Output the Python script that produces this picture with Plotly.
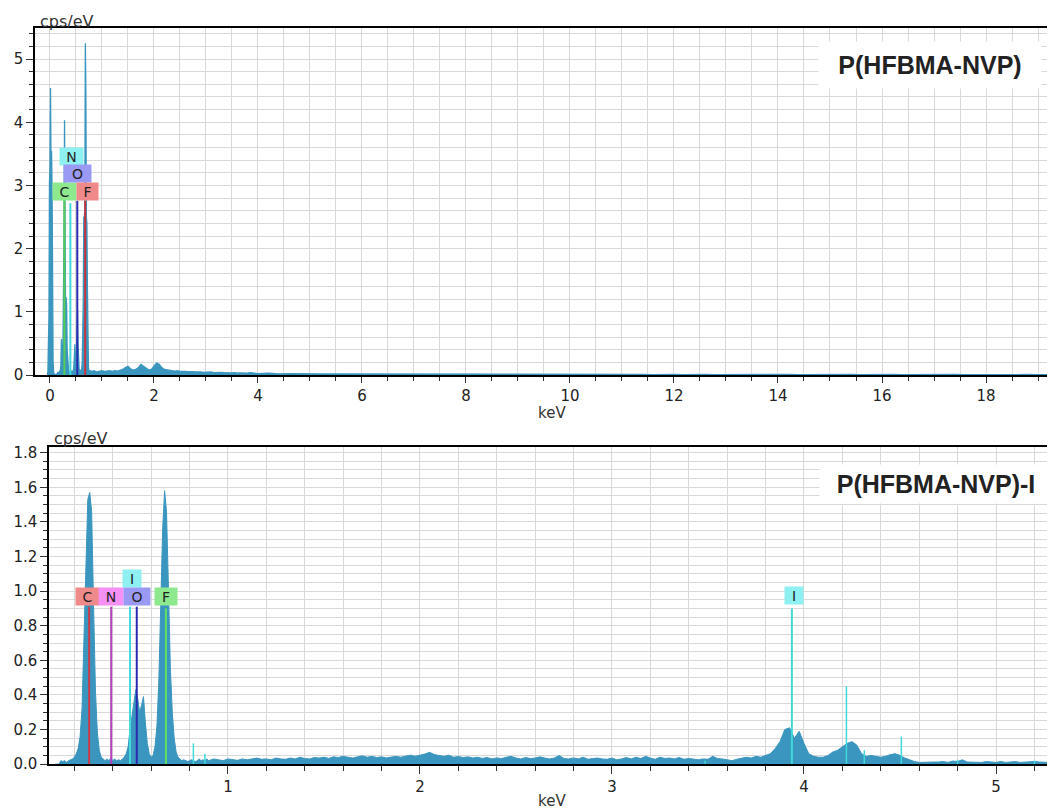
import plotly.graph_objects as go

# ---------------- DATA ----------------
# Top spectrum: P(HFBMA-NVP)   (segments: start keV, step keV, cps/eV values)
top_peak_start, top_peak_step = -0.05, 0.01
top_peak_cps = [0.0, 0.06, 0.5, 0.91, 3.04, 3.3, 4.54, 3.3, 3.55, 3.0,
                0.9, 0.2, 0.05, 0.0, 0.0, 0.0, 0.01, 0.0, 0.01, 0.02,
                0.04, 0.03, 0.05, 0.05, 0.06, 0.08, 0.15, 0.57, 0.3, 0.25,
                0.5, 1.0, 2.2, 4.03, 2.0, 0.8, 1.23, 1.1, 0.4, 0.2,
                0.08, 0.05, 0.04, 0.05, 0.06, 0.05, 0.04, 0.06, 0.05, 0.06,
                0.08, 0.15, 0.35, 0.49, 0.2, 0.15, 0.3, 0.6, 1.04, 0.5,
                0.2, 0.1, 0.08, 0.07, 0.07, 0.08, 0.1, 0.2, 0.5, 1.2,
                2.5, 2.5, 2.6, 5.25, 4.48, 2.5, 2.4, 1.36, 0.4, 0.12,
                0.07, 0.06, 0.07, 0.06, 0.065]
top_bg1_start, top_bg1_step = 0.80, 0.05
top_bg1_cps = [0.06, 0.07, 0.05, 0.06, 0.07, 0.06, 0.065, 0.07,
               0.06, 0.07, 0.065, 0.08, 0.09, 0.12, 0.14, 0.10,
               0.08, 0.09, 0.12, 0.17, 0.14, 0.10, 0.08, 0.09,
               0.14, 0.19, 0.17, 0.12, 0.09, 0.08, 0.075, 0.07,
               0.065, 0.07, 0.06, 0.065, 0.06, 0.055, 0.06, 0.055,
               0.05, 0.055, 0.05, 0.045, 0.05, 0.045, 0.05, 0.04,
               0.045, 0.04, 0.045, 0.04, 0.035, 0.04, 0.035, 0.04,
               0.03, 0.035, 0.03, 0.028, 0.03, 0.04, 0.035, 0.03]
top_bg2_start, top_bg2_step = 4.0, 0.2
top_bg2_cps = [0.025, 0.03, 0.02, 0.025, 0.02, 0.022, 0.018, 0.02,
               0.02, 0.018, 0.02, 0.015, 0.018, 0.02, 0.015, 0.018,
               0.015, 0.02, 0.015, 0.012, 0.018, 0.015, 0.012, 0.015,
               0.012, 0.015, 0.01, 0.012, 0.015, 0.01, 0.012, 0.01,
               0.012, 0.01, 0.015, 0.01, 0.012, 0.01, 0.008, 0.012,
               0.01, 0.008, 0.012, 0.01, 0.008, 0.01, 0.012, 0.008,
               0.01, 0.008, 0.01, 0.012, 0.008, 0.01, 0.008, 0.01,
               0.008, 0.01, 0.008, 0.012, 0.008, 0.01, 0.008, 0.01,
               0.008, 0.01, 0.008, 0.01, 0.008, 0.01, 0.012, 0.008,
               0.01, 0.008, 0.01, 0.008, 0.01, 0.008]

# Bottom spectrum: P(HFBMA-NVP)-I
bot_peak_start, bot_peak_step = 0.10, 0.01
bot_peak_cps = [0.0, 0.0, 0.0, 0.02, 0.015, 0.02, 0.01, 0.02, 0.025, 0.03,
                0.04, 0.06, 0.09, 0.16, 0.32, 0.72, 1.25, 1.53, 1.57, 1.46,
                0.92, 0.42, 0.18, 0.08, 0.04, 0.03, 0.02, 0.03, 0.02, 0.035,
                0.02, 0.03, 0.02, 0.025, 0.02, 0.03, 0.04, 0.06, 0.1, 0.2,
                0.28, 0.36, 0.43, 0.38, 0.3, 0.34, 0.39, 0.24, 0.12, 0.06,
                0.04, 0.05, 0.1, 0.22, 0.48, 0.92, 1.36, 1.58, 1.46, 1.02,
                0.56, 0.3, 0.15, 0.07, 0.04, 0.03, 0.02, 0.025, 0.02, 0.015,
                0.02, 0.025, 0.02, 0.015, 0.02, 0.03, 0.02, 0.025, 0.02, 0.03]
bot_bg_start, bot_bg_step = 0.90, 0.025
bot_bg_cps = [0.02, 0.03, 0.025, 0.02, 0.03, 0.028, 0.022, 0.03,
              0.025, 0.03, 0.035, 0.028, 0.03, 0.025, 0.035, 0.03,
              0.028, 0.035, 0.03, 0.04, 0.032, 0.03, 0.038, 0.035,
              0.04, 0.033, 0.042, 0.038, 0.045, 0.04, 0.035, 0.042,
              0.048, 0.04, 0.045, 0.038, 0.042, 0.036, 0.04, 0.045,
              0.04, 0.048, 0.052, 0.045, 0.05, 0.058, 0.068, 0.055,
              0.05, 0.045, 0.052, 0.04, 0.044, 0.038, 0.042, 0.035,
              0.04, 0.033, 0.038, 0.03, 0.036, 0.032, 0.04, 0.045,
              0.035, 0.03, 0.038, 0.032, 0.035, 0.042, 0.035, 0.03,
              0.035, 0.05, 0.032, 0.03, 0.036, 0.03, 0.04, 0.028,
              0.032, 0.035, 0.03, 0.028, 0.035, 0.025, 0.03, 0.038,
              0.03, 0.04, 0.032, 0.045, 0.035, 0.028, 0.04, 0.033,
              0.035, 0.03, 0.038, 0.028, 0.033, 0.03, 0.025, 0.03,
              0.028, 0.045, 0.032, 0.03, 0.025, 0.02, 0.028, 0.035,
              0.04, 0.035, 0.045, 0.04, 0.05, 0.06, 0.09, 0.13,
              0.2, 0.21, 0.15, 0.19, 0.12, 0.06, 0.045, 0.04,
              0.04, 0.05, 0.07, 0.08, 0.1, 0.12, 0.13, 0.11,
              0.06, 0.045, 0.05, 0.045, 0.04, 0.045, 0.055, 0.06,
              0.05, 0.035, 0.025, 0.015, 0.01, 0.012, 0.01, 0.012,
              0.012, 0.015, 0.01, 0.018, 0.015, 0.025, 0.012, 0.01,
              0.012, 0.01, 0.015, 0.012, 0.01, 0.015, 0.01, 0.012,
              0.015, 0.01, 0.012, 0.01, 0.015, 0.012, 0.01, 0.01,
              0.012, 0.01, 0.012]

# Element marker lines
top_elements = ["C", "N", "O", "F"]
top_elem_kev = [0.277, 0.392, 0.525, 0.677]
top_elem_height = [2.80, 2.72, 2.76, 2.76]

bot_elements = ["C", "N", "I", "O", "F", "I"]
bot_elem_kev = [0.277, 0.392, 0.49, 0.525, 0.677, 3.937]
bot_elem_height = [0.91, 0.91, 0.91, 0.91, 0.90, 0.90]

# Additional (unlabelled) iodine lines
iodine_kev = [0.82, 0.88, 3.485, 4.221, 4.314, 4.507, 4.80, 5.20]
iodine_height = [0.12, 0.06, 0.02, 0.45, 0.08, 0.16, 0.025, 0.02]

top_title = "P(HFBMA-NVP)"
bot_title = "P(HFBMA-NVP)-I"

# ---------------- STYLE / LAYOUT ----------------
SPEC_COLOR = "rgb(58,150,190)"
GRID = "#d9d9d9"
FONT = "DejaVu Sans"
ELEM_STYLE = {  # element -> (line colour, box colour)
    "top": {"C": ("#55cc55", "#8ee88e"), "N": ("#40d8d8", "#8ef0f0"),
            "O": ("#2a2ab0", "#9a9af5"), "F": ("#c8323c", "#f08a8a")},
    "bot": {"C": ("#c83c4c", "#f08a8a"), "N": ("#b440c0", "#f590f5"),
            "I": ("#40d8d8", "#8ef0f0"), "O": ("#2a2ab0", "#9a9af5"),
            "F": ("#60e060", "#8ee88e")},
}
# label box placement (keV, cps/eV, width px) in the order of the element lists
TOP_BOX = [(0.279, 2.91, 21), (0.413, 3.46, 21), (0.529, 3.19, 25), (0.73, 2.91, 19)]
BOT_BOX = [(0.271, 0.97, 21), (0.39, 0.97, 22), (0.50, 1.075, 16),
           (0.526, 0.97, 24), (0.677, 0.97, 20), (3.948, 0.975, 16)]

# Page geometry: body margin 8px; the captured page height maps slightly compressed
OFF = 8
KY = 0.9878
FW, FH = 1055, 812
RIGHT = OFF + FW  # screen x of the figure's right edge (beyond the window)


def sx(X):  # target screen x -> paper fraction
    return (X - OFF) / FW


def sy(Y):  # target screen y -> paper fraction
    return 1 - (Y / KY - OFF) / FH


def energies(start, step, vals):
    return [round(start + i * step, 4) for i in range(len(vals))]


top_x = (energies(top_peak_start, top_peak_step, top_peak_cps)
         + energies(top_bg1_start, top_bg1_step, top_bg1_cps)
         + energies(top_bg2_start, top_bg2_step, top_bg2_cps))
top_y = top_peak_cps + top_bg1_cps + top_bg2_cps
bot_x = (energies(bot_peak_start, bot_peak_step, bot_peak_cps)
         + energies(bot_bg_start, bot_bg_step, bot_bg_cps))
bot_y = bot_peak_cps + bot_bg_cps

fig = go.Figure()
fig.add_trace(go.Scatter(x=top_x, y=top_y, mode="lines", fill="tozeroy",
                         line=dict(color=SPEC_COLOR, width=1.3), fillcolor=SPEC_COLOR,
                         xaxis="x", yaxis="y", showlegend=False))
fig.add_trace(go.Scatter(x=bot_x, y=bot_y, mode="lines", fill="tozeroy",
                         line=dict(color=SPEC_COLOR, width=1), fillcolor=SPEC_COLOR,
                         xaxis="x2", yaxis="y2", showlegend=False))

box_font = dict(family=FONT, size=14, color="#222")
annotations = []
for el, e, h, (bx, by, bw) in zip(top_elements, top_elem_kev, top_elem_height, TOP_BOX):
    lc, bc = ELEM_STYLE["top"][el]
    fig.add_trace(go.Scatter(x=[e, e], y=[0, h], mode="lines", line=dict(color=lc, width=2),
                             xaxis="x", yaxis="y", showlegend=False))
    annotations.append(dict(x=bx, y=by, xref="x", yref="y", text=el, showarrow=False,
                            xanchor="center", yanchor="middle",
                            bgcolor=bc, width=bw, height=15, borderpad=1, font=box_font))

for e, h in zip(iodine_kev, iodine_height):
    fig.add_trace(go.Scatter(x=[e, e], y=[0, h], mode="lines",
                             line=dict(color="#40d8d8", width=1.5),
                             xaxis="x2", yaxis="y2", showlegend=False))

for el, e, h, (bx, by, bw) in zip(bot_elements, bot_elem_kev, bot_elem_height, BOT_BOX):
    lc, bc = ELEM_STYLE["bot"][el]
    fig.add_trace(go.Scatter(x=[e, e], y=[0, h], mode="lines", line=dict(color=lc, width=2),
                             xaxis="x2", yaxis="y2", showlegend=False))
    annotations.append(dict(x=bx, y=by, xref="x2", yref="y2", text=el, showarrow=False,
                            xanchor="center", yanchor="middle",
                            bgcolor=bc, width=bw, height=15, borderpad=1, font=box_font))

lab_font = dict(family=FONT, size=15, color="#333")
annotations += [
    dict(x=sx(930), y=sy(62), xref="paper", yref="paper", text="<b>" + top_title + "</b>",
         showarrow=False, xanchor="center", yanchor="middle",
         bgcolor="white", width=220, height=44,
         font=dict(family="Liberation Sans", size=25, color="#222")),
    dict(x=sx(936), y=sy(482), xref="paper", yref="paper", text="<b>" + bot_title + "</b>",
         showarrow=False, xanchor="center", yanchor="middle",
         bgcolor="white", width=230, height=36,
         font=dict(family="Liberation Sans", size=25, color="#222")),
    dict(x=sx(552), y=sy(411), xref="paper", yref="paper", text="keV", showarrow=False,
         xanchor="center", yanchor="middle", font=lab_font),
    dict(x=sx(552), y=sy(800), xref="paper", yref="paper", text="keV", showarrow=False,
         xanchor="center", yanchor="middle", font=lab_font),
    dict(x=sx(38), y=sy(18), xref="paper", yref="paper", text="cps/eV", showarrow=False,
         xanchor="left", yanchor="middle", font=dict(family=FONT, size=16, color="#333")),
    dict(x=sx(52), y=sy(437), xref="paper", yref="paper", text="cps/eV", showarrow=False,
         xanchor="left", yanchor="middle", font=dict(family=FONT, size=16, color="#333")),
]

tickfont = dict(family=FONT, size=15, color="#222")
common = dict(showline=True, linecolor="black", linewidth=1.5, ticks="outside",
              tickcolor="#333", showgrid=True, gridcolor=GRID, gridwidth=1,
              zeroline=False, tickfont=tickfont)

# axis ranges: the plot areas run past the right edge of the window
top_kev_right = (RIGHT - 50) / 52
bot_kev_right = (RIGHT - 36) / 192

fig.update_layout(
    width=FW, height=FH, margin=dict(l=0, r=0, t=0, b=0), autosize=False,
    paper_bgcolor="white", plot_bgcolor="white", showlegend=False,
    annotations=annotations,
    xaxis=dict(domain=[sx(35), 1], anchor="y", range=[-0.288, top_kev_right], tick0=0, dtick=2,
               ticklen=6, mirror=True,
               minor=dict(dtick=0.5, ticklen=4, tickcolor="#333", showgrid=True, gridcolor=GRID),
               **common),
    yaxis=dict(domain=[sy(373), sy(25)], anchor="x", range=[0, 5.49], tick0=0, dtick=1,
               ticklen=7,
               minor=dict(dtick=0.2, ticklen=4, tickcolor="#333", showgrid=True, gridcolor=GRID),
               **common),
    xaxis2=dict(domain=[sx(49), 1], anchor="y2", range=[0.068, bot_kev_right], tick0=0, dtick=1,
                ticklen=8, mirror=True,
                minor=dict(dtick=0.2, ticklen=5, tickcolor="#333", showgrid=True, gridcolor=GRID),
                **common),
    yaxis2=dict(domain=[sy(763), sy(445)], anchor="x2", range=[0, 1.833], tick0=0,
                dtick=0.2, tickformat=".1f", ticklen=7,
                minor=dict(dtick=0.05, ticklen=4, tickcolor="#333", showgrid=True, gridcolor=GRID),
                **common),
)

fig.write_html("out.html")
